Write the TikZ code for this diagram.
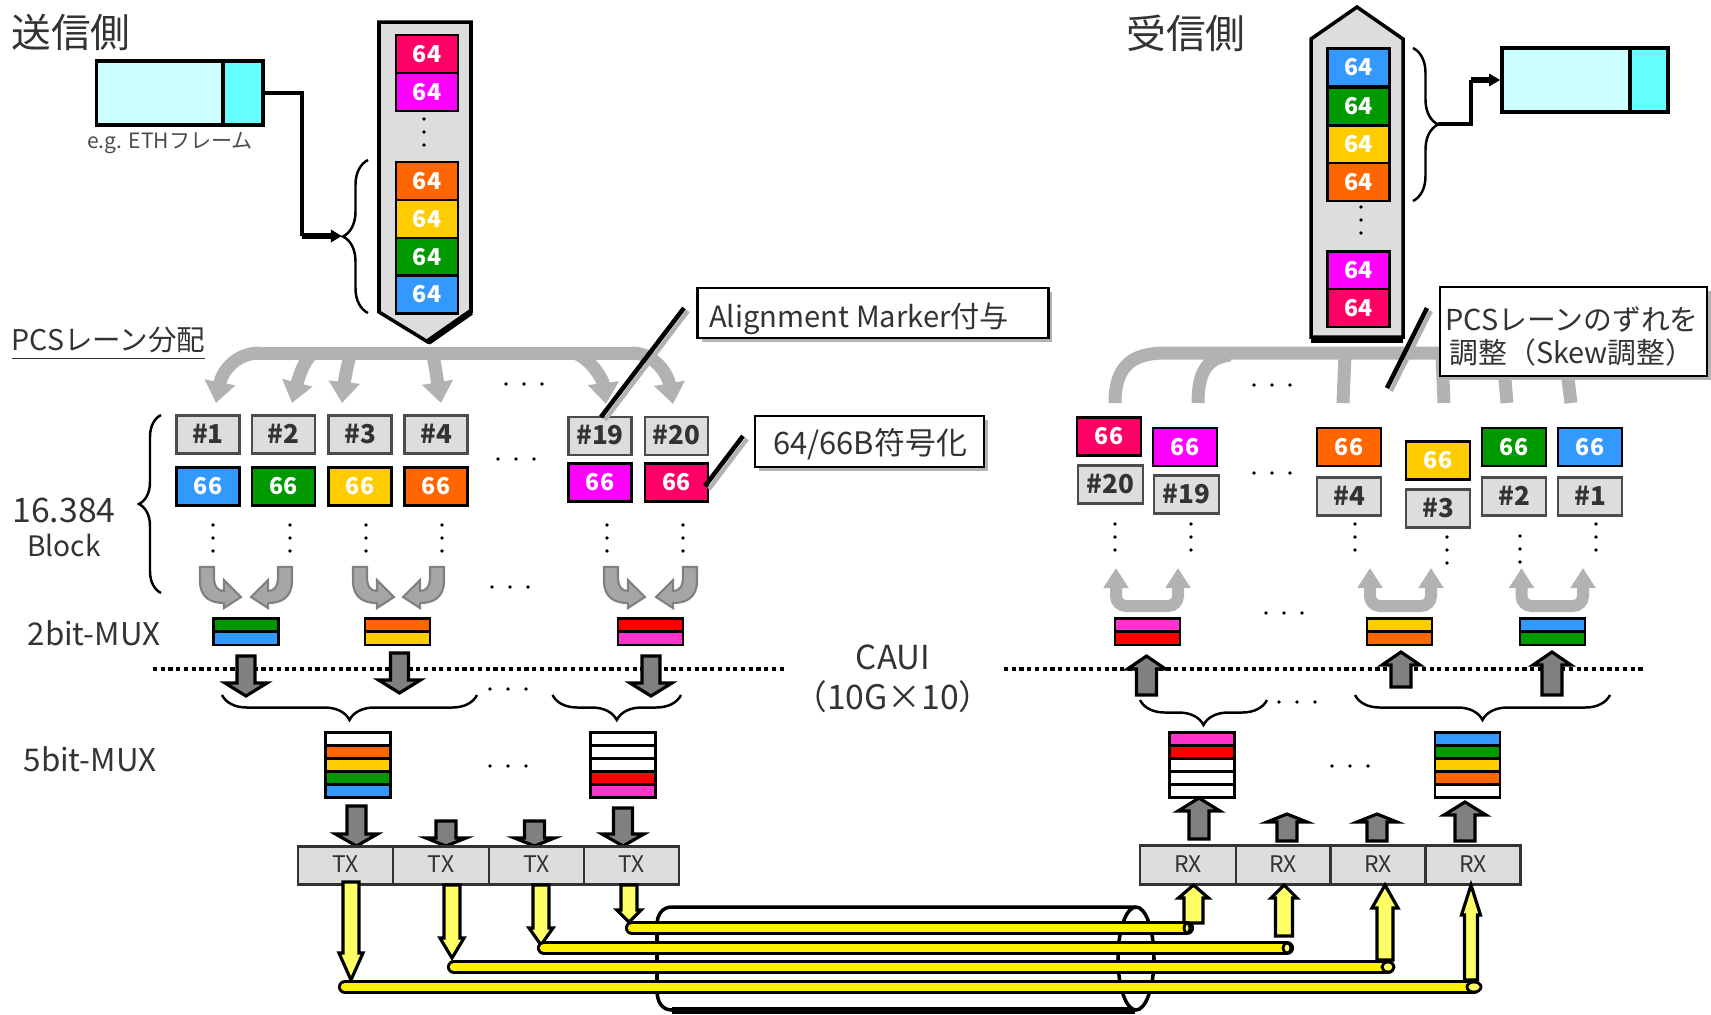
\documentclass[tikz,border=0pt]{standalone}
\usepackage{fontspec}
\setmainfont{Noto Sans CJK JP}
\usetikzlibrary{arrows.meta,shadows,decorations.pathreplacing}
\definecolor{cpink}{HTML}{FF0066}
\definecolor{cmagenta}{HTML}{FF00FF}
\definecolor{corange}{HTML}{FF6600}
\definecolor{cyellow}{HTML}{FFCC00}
\definecolor{cgreen}{HTML}{009900}
\definecolor{cblue}{HTML}{3399FF}
\definecolor{cred}{HTML}{FF0000}
\definecolor{crose}{HTML}{FF33CC}
\definecolor{boxgray}{HTML}{DDDDDD}
\definecolor{busgray}{HTML}{B2B2B2}
\definecolor{fatgray}{HTML}{808080}
\definecolor{framelight}{HTML}{CCFFFF}
\definecolor{framehead}{HTML}{66FFFF}
\definecolor{arrowyellow}{HTML}{FFFF66}
\definecolor{txtgray}{HTML}{333333}
\tikzset{
  cell/.style={draw=black,line width=.8pt,inner sep=0pt,minimum width=.62cm,minimum height=.38cm,text height=.165cm,text depth=0pt,text=white,font=\fontsize{6.6}{8}\selectfont\bfseries},
  numbox/.style={draw=black!70,line width=.8pt,fill=boxgray,inner sep=0pt,minimum width=.63cm,minimum height=.38cm,text height=.17cm,text depth=0pt,text=txtgray,font=\fontsize{7.4}{8}\selectfont\bfseries},
  bar/.style={draw=black,line width=.7pt,inner sep=0pt,minimum width=.65cm,minimum height=.13cm},
  lbl/.style={text=txtgray,inner sep=0pt,font=\fontsize{8.9}{10}\selectfont},
  title/.style={text=txtgray,inner sep=0pt,font=\fontsize{11.3}{13}\selectfont},
  callout/.style={draw=black,fill=white,line width=.8pt,inner sep=0pt,drop shadow={shadow xshift=.04cm,shadow yshift=-.04cm,fill=black!30,opacity=1}},
  callouttext/.style={text=txtgray,align=center,inner sep=0pt,font=\fontsize{8.2}{9.4}\selectfont},
  calloutline/.style={draw=black,line width=1.3pt},
  calloutshade/.style={draw=black!30,line width=1.2pt},
  trx/.style={draw=black!80,line width=.8pt,fill=boxgray,inner sep=0pt,minimum height=.385cm,text height=.14cm,text depth=0pt,text=txtgray,font=\fontsize{6.5}{8}\selectfont},
  conn/.style={draw=black,line width=1pt},
  curly/.style={draw=black,line width=.7pt,decorate},
  busline/.style={draw=busgray,line width=.13cm},
  busarrow/.style={busline,-{Triangle[width=.3cm,length=.21cm]}},
  uarrow/.style={draw=busgray,line width=.12cm,rounded corners=.1cm,{Triangle[width=.24cm,length=.2cm]}-{Triangle[width=.24cm,length=.2cm]}},
  fatfill/.style={draw=black,fill=fatgray},
  yelfill/.style={draw=black,fill=arrowyellow},
  pics/blockarrow/.style n args={4}{code={
    \draw[line width=.9pt,pic actions] (-#3,0) -- (-#3,#1-#4) -- (-#2,#1-#4) -- (0,#1) -- (#2,#1-#4) -- (#3,#1-#4) -- (#3,0) -- cycle;
  }},
  tube/.style={draw=black,line width=.8pt,double=yellow,double distance=.085cm,line cap=round},
  tubeend/.style={draw=black,line width=.8pt,fill=arrowyellow},
  bendarrow/.pic={
    \draw[draw=fatgray,line width=.6pt,fill=black!35]
      (-7,0) -- (-7,14) .. controls (-7,30) and (3,36) .. (17,36) -- (17,41) -- (34,30) -- (17,13) -- (17,24)
      .. controls (11,24) and (7,20) .. (7,10) -- (7,0) -- cycle;
  }
}
\newcommand{\threeh}[2]{\fill (#1-18,#2) circle (1.8) (#1,#2) circle (1.8) (#1+18,#2) circle (1.8);}
\newcommand{\threev}[2]{\fill (#1,#2-13) circle (1.8) (#1,#2) circle (1.8) (#1,#2+13) circle (1.8);}
\begin{document}
\begin{tikzpicture}[x=.01cm,y=-.01cm]
  \useasboundingbox (0,0) rectangle (1711,1014);

  % titles and frames
  \node[title] (titletx) at (71,32) {送信側};
  \node[title] (titlerx) at (1186,33) {受信側};
  \node[draw=black,line width=1pt,fill=framelight,inner sep=0pt,minimum width=1.266cm,minimum height=.64cm] (frametx) at (160,93) {};
  \node[draw=black,line width=1pt,fill=framehead,inner sep=0pt,minimum width=.395cm,minimum height=.64cm] (headtx) at (243,93) {};
  \node[text=black!70,inner sep=0pt,font=\fontsize{6}{7}\selectfont] (framelabel) at (170,143) {e.g. ETHフレーム};
  \node[draw=black,line width=1pt,fill=framelight,inner sep=0pt,minimum width=1.28cm,minimum height=.64cm] (framerx) at (1566,80) {};
  \node[draw=black,line width=1pt,fill=framehead,inner sep=0pt,minimum width=.38cm,minimum height=.64cm] (headrx) at (1649,80) {};
  \node[lbl,font=\fontsize{8.1}{9}\selectfont] (pcslabel) at (108.5,344) {\underline{PCSレーン分配}};

  % pencils
  \draw[draw=black,line width=1pt,fill=boxgray] (379,22) -- (471,22) -- (471,312) -- (428,342) -- (379,312) -- cycle;
  \draw[line width=1.8pt] (471,312) -- (428,342);
  \draw[draw=black,line width=1pt,fill=boxgray] (1311,39) -- (1357,7) -- (1403,39) -- (1403,337) -- (1311,337) -- cycle;
  \fill (1311,337) rectangle (1403,343);

  \node[cell,fill=cpink] (txa1) at (427,54) {64};
  \node[cell,fill=cmagenta] (txa2) at (427,92) {64};
  \threev{424}{132}
  \node[cell,fill=corange] (txa3) at (427,181) {64};
  \node[cell,fill=cyellow] (txa4) at (427,219) {64};
  \node[cell,fill=cgreen] (txa5) at (427,257) {64};
  \node[cell,fill=cblue] (txa6) at (427,294.5) {64};

  \node[cell,fill=cblue] (rxa1) at (1358.5,67.5) {64};
  \node[cell,fill=cgreen] (rxa2) at (1358.5,106.5) {64};
  \node[cell,fill=cyellow] (rxa3) at (1358.5,144.5) {64};
  \node[cell,fill=corange] (rxa4) at (1358.5,182) {64};
  \threev{1361}{220}
  \node[cell,fill=cmagenta] (rxa5) at (1358.5,270.5) {64};
  \node[cell,fill=cpink] (rxa6) at (1358.5,308) {64};

  % frame connectors
  \coordinate (bracetxtop) at (368,313);
  \coordinate (bracetxbot) at (368,160);
  \coordinate (bracerxtop) at (1413,48);
  \coordinate (bracerxbot) at (1413,201);
  \draw[curly,decoration={brace,amplitude=.25cm}] (bracetxtop) -- (bracetxbot);
  \draw[curly,decoration={brace,amplitude=.25cm}] (bracerxtop) -- (bracerxbot);
  \coordinate (elbowtx) at (302,236);
  \coordinate (endtx) at (342,236);
  \coordinate (startrx) at (1438,124);
  \coordinate (elbowrx) at (1471,80);
  \draw[conn] (headtx.east) -| (elbowtx);
  \draw[conn,line width=1.6pt,-{Triangle[width=.12cm,length=.11cm]}] (elbowtx) -- (endtx);
  \draw[conn] (startrx) -| (elbowrx);
  \draw[conn,line width=1.6pt,-{Triangle[width=.12cm,length=.11cm]}] (elbowrx) -- (framerx.west);

  % lane distribution
  \draw[busline] (255,353) -- (640,353);
  \draw[busarrow] (260,353) .. controls (235,353) and (222,372) .. (216,403);
  \draw[busarrow] (310,356) .. controls (302,365) and (298,380) .. (292,403);
  \draw[busarrow] (350,356) .. controls (346,370) and (344,385) .. (342,403);
  \draw[busarrow] (433,356) .. controls (436,370) and (438,385) .. (441,403);
  \draw[busarrow] (575,353) .. controls (592,360) and (603,380) .. (606,404);
  \draw[busarrow] (632,353) .. controls (655,353) and (668,375) .. (673,404);
  \threeh{524}{384}

  \draw[busline] (1115,403) .. controls (1115,368) and (1130,353) .. (1165,353) -- (1600,353);
  \draw[busline] (1198,403) .. controls (1198,375) and (1205,358) .. (1230,355);
  \draw[busline] (1343,403) -- (1345,355);
  \draw[busline] (1444,403) -- (1442,355);
  \draw[busline] (1507,403) -- (1503,355);
  \draw[busline] (1571,403) -- (1565,355);
  \threeh{1272}{385}

  % sender lanes
  \node[numbox] (txn1) at (208,434.5) {\#1};
  \node[numbox] (txn2) at (283.5,434.5) {\#2};
  \node[numbox] (txn3) at (360,434.5) {\#3};
  \node[numbox] (txn4) at (436,434.5) {\#4};
  \node[numbox] (txn19) at (600,436) {\#19};
  \node[numbox] (txn20) at (676.5,436) {\#20};
  \node[cell,fill=cblue,minimum width=.63cm] (txb1) at (208,486.5) {66};
  \node[cell,fill=cgreen,minimum width=.63cm] (txb2) at (283.5,486.5) {66};
  \node[cell,fill=cyellow,minimum width=.63cm] (txb3) at (360,486.5) {66};
  \node[cell,fill=corange,minimum width=.63cm] (txb4) at (436,486.5) {66};
  \node[cell,fill=cmagenta,minimum width=.63cm] (txb19) at (600,482.5) {66};
  \node[cell,fill=cpink,minimum width=.63cm] (txb20) at (676.5,482.5) {66};
  \threeh{516}{459}
  \threev{213}{538}
  \threev{290}{538}
  \threev{366}{538}
  \threev{442}{538}
  \threev{607}{538}
  \threev{683}{538}

  \coordinate (blocktop) at (161,593);
  \coordinate (blockbot) at (161,415);
  \draw[curly,decoration={brace,amplitude=.22cm}] (blocktop) -- (blockbot);
  \node[lbl,font=\fontsize{9.6}{10}\selectfont] (countlabel) at (64,510) {16.384};
  \node[lbl,font=\fontsize{8}{10}\selectfont] (blocklabel) at (64,545) {Block};
  \node[lbl] (mux2label) at (94,633) {2bit-MUX};
  \node[lbl] (mux5label) at (90,759) {5bit-MUX};

  \pic at (207,567) {bendarrow};
  \pic[xscale=-1] at (285,567) {bendarrow};
  \pic at (360,567) {bendarrow};
  \pic[xscale=-1] at (437,567) {bendarrow};
  \pic at (611,567) {bendarrow};
  \pic[xscale=-1] at (690,567) {bendarrow};
  \threeh{510}{587}

  \node[bar,fill=cgreen] (txma1) at (246,625) {};
  \node[bar,fill=cblue] (txma2) at (246,638.5) {};
  \node[bar,fill=corange] (txmb1) at (397.5,625) {};
  \node[bar,fill=cyellow] (txmb2) at (397.5,638.5) {};
  \node[bar,fill=cred] (txmc1) at (650.5,625) {};
  \node[bar,fill=crose] (txmc2) at (650.5,638.5) {};

  % CAUI boundary
  \coordinate (dotaleft) at (153,669);
  \coordinate (dotaright) at (785,669);
  \coordinate (dotbleft) at (1004,669);
  \coordinate (dotbright) at (1644,669);
  \draw[densely dotted,line width=1.2pt] (dotaleft) -- (dotaright);
  \draw[densely dotted,line width=1.2pt] (dotbleft) -- (dotbright);
  \node[lbl,font=\fontsize{9.4}{10}\selectfont] (cauilabel) at (893,657) {CAUI};
  \node[lbl,font=\fontsize{9.6}{10}\selectfont] (cauirate) at (893,697) {（10G×10）};

  \pic[fatfill] at (246,656) {blockarrow={40}{21}{9}{13}};
  \pic[fatfill] at (399.5,653) {blockarrow={40}{21}{9}{13}};
  \pic[fatfill] at (651,656) {blockarrow={40}{21}{9}{13}};
  \threeh{508}{689}

  \coordinate (bragroupa) at (222,695);
  \coordinate (bragroupb) at (477,695);
  \coordinate (bragroupc) at (552.5,695);
  \coordinate (bragroupd) at (681,695);
  \draw[curly,decoration={brace,amplitude=.25cm}] (bragroupb) -- (bragroupa);
  \draw[curly,decoration={brace,amplitude=.25cm}] (bragroupd) -- (bragroupc);

  \node[bar,fill=white] (txs11) at (358,739) {};
  \node[bar,fill=corange] (txs12) at (358,752) {};
  \node[bar,fill=cyellow] (txs13) at (358,765) {};
  \node[bar,fill=cgreen] (txs14) at (358,778) {};
  \node[bar,fill=cblue] (txs15) at (358,791) {};
  \node[bar,fill=white] (txs21) at (623,739) {};
  \node[bar,fill=white] (txs22) at (623,752) {};
  \node[bar,fill=white] (txs23) at (623,765) {};
  \node[bar,fill=cred] (txs24) at (623,778) {};
  \node[bar,fill=crose] (txs25) at (623,791) {};
  \threeh{508}{766}

  \pic[fatfill] at (356.5,806) {blockarrow={40}{21}{9.5}{12}};
  \pic[fatfill] at (446,821) {blockarrow={25}{20}{10}{8}};
  \pic[fatfill] at (534.5,821) {blockarrow={25}{20}{10}{8}};
  \pic[fatfill] at (623,808) {blockarrow={38}{21}{9.5}{12}};

  \node[trx,minimum width=.95cm] (tx1) at (345.5,865.5) {TX};
  \node[trx,minimum width=.96cm] (tx2) at (441,865.5) {TX};
  \node[trx,minimum width=.95cm] (tx3) at (536.5,865.5) {TX};
  \node[trx,minimum width=.95cm] (tx4) at (631.5,865.5) {TX};

  % receiver lanes
  \node[cell,fill=cpink,minimum width=.64cm] (rxb20) at (1109,436.5) {66};
  \node[numbox,minimum width=.65cm] (rxn20) at (1110.5,484.5) {\#20};
  \node[cell,fill=cmagenta,minimum width=.64cm] (rxb19) at (1185,447) {66};
  \node[numbox,minimum width=.65cm] (rxn19) at (1186.5,494.5) {\#19};
  \node[cell,fill=corange,minimum width=.64cm] (rxb4) at (1349,447) {66};
  \node[numbox,minimum width=.64cm] (rxn4) at (1349,496.5) {\#4};
  \node[cell,fill=cyellow,minimum width=.64cm] (rxb3) at (1438,460.5) {66};
  \node[numbox,minimum width=.64cm] (rxn3) at (1438,508.5) {\#3};
  \node[cell,fill=cgreen,minimum width=.64cm] (rxb2) at (1514,447) {66};
  \node[numbox,minimum width=.64cm] (rxn2) at (1514,496.5) {\#2};
  \node[cell,fill=cblue,minimum width=.64cm] (rxb1) at (1590,447) {66};
  \node[numbox,minimum width=.64cm] (rxn1) at (1590,496.5) {\#1};
  \threeh{1272}{473}
  \threev{1115}{537}
  \threev{1191}{537}
  \threev{1355}{537}
  \threev{1447}{550}
  \threev{1520}{549}
  \threev{1596}{537}

  \coordinate (ua1) at (1116,568);
  \coordinate (ua2) at (1116,606);
  \coordinate (ua3) at (1178,606);
  \coordinate (ua4) at (1178,568);
  \draw[uarrow] (ua1) -- (ua2) -- (ua3) -- (ua4);
  \coordinate (ub1) at (1370,568);
  \coordinate (ub2) at (1370,606);
  \coordinate (ub3) at (1431,606);
  \coordinate (ub4) at (1431,568);
  \draw[uarrow] (ub1) -- (ub2) -- (ub3) -- (ub4);
  \coordinate (uc1) at (1521.5,568);
  \coordinate (uc2) at (1521.5,606);
  \coordinate (uc3) at (1583,606);
  \coordinate (uc4) at (1583,568);
  \draw[uarrow] (uc1) -- (uc2) -- (uc3) -- (uc4);
  \threeh{1284}{613}

  \node[bar,fill=crose] (rxma1) at (1147.5,625) {};
  \node[bar,fill=cred] (rxma2) at (1147.5,638.5) {};
  \node[bar,fill=cyellow] (rxmb1) at (1399.5,625) {};
  \node[bar,fill=corange] (rxmb2) at (1399.5,638.5) {};
  \node[bar,fill=cblue] (rxmc1) at (1552.5,625) {};
  \node[bar,fill=cgreen] (rxmc2) at (1552.5,638.5) {};

  \pic[fatfill,yscale=-1] at (1146.5,695) {blockarrow={39}{19}{10}{13}};
  \pic[fatfill,yscale=-1] at (1401,687) {blockarrow={35}{19}{10}{13}};
  \pic[fatfill,yscale=-1] at (1552,695) {blockarrow={43}{19}{10}{13}};
  \threeh{1297}{702}

  \coordinate (brarxa) at (1140,700);
  \coordinate (brarxb) at (1267,700);
  \coordinate (brarxc) at (1355,695);
  \coordinate (brarxd) at (1610,695);
  \draw[curly,decoration={brace,amplitude=.25cm}] (brarxb) -- (brarxa);
  \draw[curly,decoration={brace,amplitude=.25cm}] (brarxd) -- (brarxc);

  \node[bar,fill=crose] (rxs11) at (1202,739) {};
  \node[bar,fill=cred] (rxs12) at (1202,752) {};
  \node[bar,fill=white] (rxs13) at (1202,765) {};
  \node[bar,fill=white] (rxs14) at (1202,778) {};
  \node[bar,fill=white] (rxs15) at (1202,791) {};
  \node[bar,fill=cblue] (rxs21) at (1467.5,739) {};
  \node[bar,fill=cgreen] (rxs22) at (1467.5,752) {};
  \node[bar,fill=cyellow] (rxs23) at (1467.5,765) {};
  \node[bar,fill=corange] (rxs24) at (1467.5,778) {};
  \node[bar,fill=white] (rxs25) at (1467.5,791) {};
  \threeh{1350}{766}

  \pic[fatfill,yscale=-1] at (1199,839) {blockarrow={41}{21}{10}{13}};
  \pic[fatfill,yscale=-1] at (1287,841) {blockarrow={27}{20}{10}{8}};
  \pic[fatfill,yscale=-1] at (1377,841) {blockarrow={27}{20}{10}{8}};
  \pic[fatfill,yscale=-1] at (1465,841) {blockarrow={39}{21}{10}{13}};

  \node[trx,minimum width=.96cm] (rx1) at (1188,865) {RX};
  \node[trx,minimum width=.94cm] (rx2) at (1283,865) {RX};
  \node[trx,minimum width=.955cm] (rx3) at (1378,865) {RX};
  \node[trx,minimum width=.95cm] (rx4) at (1473,865) {RX};

  % cable
  \draw[draw=black,line width=1pt,fill=white] (1135,907) -- (672,907) .. controls (662,907) and (657,915) .. (657,925)
    -- (657,990) .. controls (657,1002) and (662,1010) .. (672,1010) -- (1135,1010);
  \draw[line width=2pt] (672,1010) -- (1135,1010);
  \draw[draw=black,line width=1pt,fill=white] (1136,958.5) ellipse (18 and 51.5);

  \pic[yelfill] at (351,882) {blockarrow={98}{12}{8}{27}};
  \pic[yelfill] at (452,885) {blockarrow={73}{12}{8}{20}};
  \pic[yelfill] at (541,885) {blockarrow={60}{12}{8}{17}};
  \pic[yelfill] at (629,885) {blockarrow={37}{12}{8}{12}};
  \pic[yelfill,yscale=-1] at (1193.5,923) {blockarrow={38}{15}{9.5}{13}};
  \pic[yelfill,yscale=-1] at (1284,936) {blockarrow={51}{13}{8.5}{13}};
  \pic[yelfill,yscale=-1] at (1385,960) {blockarrow={75}{13}{8}{23}};
  \pic[yelfill,yscale=-1] at (1471,980) {blockarrow={95}{9.5}{6.5}{30}};

  \coordinate (wire1a) at (632,928);
  \coordinate (wire1b) at (1187,928);
  \coordinate (wire2a) at (544,948);
  \coordinate (wire2b) at (1287,948);
  \coordinate (wire3a) at (454,967);
  \coordinate (wire3b) at (1388,967);
  \coordinate (wire4a) at (345,987);
  \coordinate (wire4b) at (1474,987);
  \draw[tube] (wire1a) -- (wire1b);
  \draw[tube] (wire2a) -- (wire2b);
  \draw[tube] (wire3a) -- (wire3b);
  \draw[tube] (wire4a) -- (wire4b);
  \draw[tubeend] (wire1b) ellipse (3 and 5);
  \draw[tubeend] (wire2b) ellipse (4 and 5);
  \draw[tubeend] (wire3b) ellipse (6 and 5);
  \draw[tubeend] (wire4b) ellipse (7 and 5);

  % callouts
  \node[callout,minimum width=3.5cm,minimum height=.5cm] (alignbox) at (873,313) {};
  \node[callouttext,font=\fontsize{8.3}{10}\selectfont] (aligntext) at (859,319) {Alignment Marker付与};
  \node[callout,minimum width=2.29cm,minimum height=.51cm] (codebox) at (869.5,441.5) {};
  \node[callouttext,font=\fontsize{8.8}{10}\selectfont] (codetext) at (870,444) {64/66B符号化};
  \node[callout,minimum width=2.67cm,minimum height=.89cm] (skewbox) at (1573.5,331.5) {};
  \node[callouttext] (skewtext) at (1572,336) {PCSレーンのずれを\\調整（Skew調整）};
  \coordinate (aligna) at (684,308);
  \coordinate (alignb) at (601,417);
  \coordinate (codea) at (743,436);
  \coordinate (codeb) at (705,486);
  \coordinate (skewa) at (1427,308);
  \coordinate (skewb) at (1387,388);
  \draw[calloutshade] ([shift={(4,3)}]aligna) -- ([shift={(4,3)}]alignb);
  \draw[calloutline] (aligna) -- (alignb);
  \draw[calloutshade] ([shift={(4,3)}]codea) -- ([shift={(4,3)}]codeb);
  \draw[calloutline] (codea) -- (codeb);
  \draw[calloutshade] ([shift={(4,3)}]skewa) -- ([shift={(4,3)}]skewb);
  \draw[calloutline] (skewa) -- (skewb);
\end{tikzpicture}
\end{document}
